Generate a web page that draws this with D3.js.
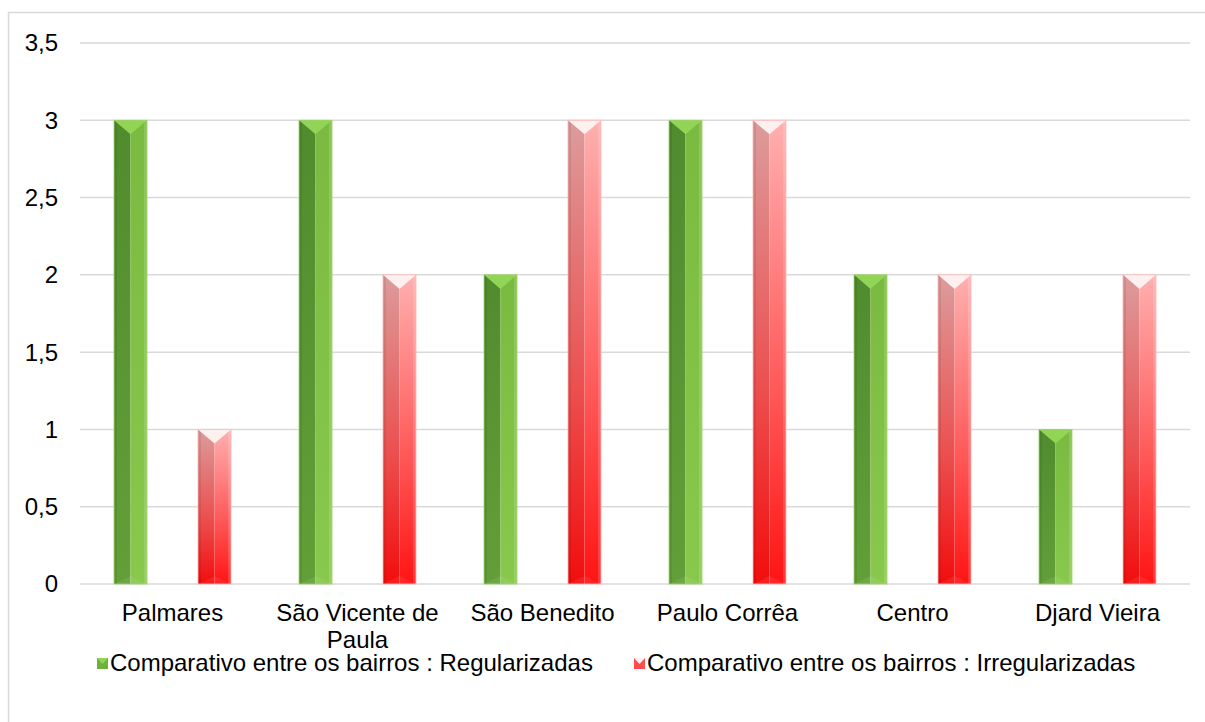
<!DOCTYPE html>
<html>
<head>
<meta charset="utf-8">
<script src="https://cdn.jsdelivr.net/npm/d3@7"></script>
<style>
  body { margin: 0; background: #fff; overflow: hidden; }
  text { font-family: "Liberation Sans", Arial, sans-serif; fill: #000; }
</style>
</head>
<body>
<svg width="1205" height="722"></svg>
<script>
const bairros = ['Palmares', 'São Vicente de Paula', 'São Benedito', 'Paulo Corrêa', 'Centro', 'Djard Vieira'];
const regularizadas = [3, 3, 2, 3, 2, 1];
const irregularizadas = [1, 2, 3, 3, 2, 2];
const seriesNames = ['Comparativo entre os bairros : Regularizadas', 'Comparativo entre os bairros : Irregularizadas'];
const yTicks = [0, 0.5, 1, 1.5, 2, 2.5, 3, 3.5];

const svg = d3.select('svg');
const margin = { left: 80, right: 15, top: 43, bottom: 138 };
const width = +svg.attr('width');
const height = +svg.attr('height');
const innerWidth = width - margin.left - margin.right;
const innerHeight = height - margin.top - margin.bottom;

// outer frame
svg.append('path')
    .attr('d', `M8.5,${height} L8.5,12.5 L${width},12.5`)
    .attr('fill', 'none').attr('stroke', '#d9d9d9').attr('stroke-width', 1.5);

const defs = svg.append('defs');
const grad = (id, x2, y2, stops) => {
    const g = defs.append('linearGradient').attr('id', id)
        .attr('x1', 0).attr('y1', 0).attr('x2', x2).attr('y2', y2);
    stops.forEach(([o, c]) => g.append('stop').attr('offset', o).attr('stop-color', c));
};
grad('gL', 0, 1, [[0, '#508c2e'], [1, '#639f38']]);
grad('gR', 0, 1, [[0, '#7aba40'], [1, '#88c84c']]);
grad('rL', 0, 1, [[0, '#dc9c9c'], [0.6, '#ec4c4c'], [1, '#f20d0d']]);
grad('rR', 0, 1, [[0, '#ffb0b0'], [0.6, '#ff5656'], [1, '#ff1414']]);

const styles = [
    { left: 'url(#gL)', right: 'url(#gR)', cap: '#92d455', edge: '#9fd66a', legend: '#6fb23a' },
    { left: 'url(#rL)', right: 'url(#rR)', cap: '#fff0f0', edge: '#ffb8b8', legend: '#ff4d4d' }
];

const g = svg.append('g').attr('transform', `translate(${margin.left},${margin.top})`);

const x = d3.scaleBand().domain(bairros).range([0, innerWidth]);
const xSub = d3.scaleBand().domain([0, 1]).range([34, 151]).paddingInner(0.607);
const y = d3.scaleLinear().domain([0, 3.5]).range([innerHeight, 0]);

// grid
g.selectAll('.grid').data(yTicks).enter().append('line')
    .attr('x1', 0).attr('x2', innerWidth)
    .attr('y1', d => y(d)).attr('y2', d => y(d))
    .attr('stroke', '#d9d9d9').attr('stroke-width', 1.5);

// y labels
g.selectAll('.ylab').data(yTicks).enter().append('text')
    .attr('x', -22).attr('y', d => y(d)).attr('dy', '0.35em')
    .attr('text-anchor', 'end').attr('font-size', 24)
    .text(d => d3.format('.1~f')(d).replace('.', ','));

// bars
const rows = [];
bairros.forEach((b, i) => {
    rows.push({ b, s: 0, v: regularizadas[i] });
    rows.push({ b, s: 1, v: irregularizadas[i] });
});

const bars = g.selectAll('.bar').data(rows).enter().append('g')
    .attr('transform', d => `translate(${x(d.b) + xSub(d.s)},0)`);

bars.each(function(d) {
    const sel = d3.select(this);
    const w = xSub.bandwidth();
    const top = y(d.v);
    const bottom = y(0);
    const st = styles[d.s];
    const cap = w / 2;
    sel.append('rect').attr('x', 0).attr('y', top).attr('width', w / 2).attr('height', bottom - top)
        .attr('fill', st.left);
    sel.append('rect').attr('x', w / 2).attr('y', top).attr('width', w / 2).attr('height', bottom - top)
        .attr('fill', st.right);
    // bevel strips
    sel.append('rect').attr('x', 0).attr('y', top).attr('width', 3).attr('height', bottom - top)
        .attr('fill', '#000').attr('opacity', 0.08);
    sel.append('rect').attr('x', w - 3).attr('y', top).attr('width', 3).attr('height', bottom - top)
        .attr('fill', '#fff').attr('opacity', 0.15);
    // top cap triangle
    sel.append('path')
        .attr('d', `M0,${top} L${w},${top} L${w / 2},${top + cap * 0.85} Z`)
        .attr('fill', st.cap);
    // bottom bevel
    sel.append('path')
        .attr('d', `M0,${bottom} L${w},${bottom} L${w / 2},${bottom - 8} Z`)
        .attr('fill', '#fff').attr('opacity', 0.08);
    sel.append('rect').attr('x', 0).attr('y', top).attr('width', w).attr('height', bottom - top)
        .attr('fill', 'none').attr('stroke', st.edge).attr('stroke-width', 0.8);
});

// x labels
const labelLines = {
    'São Vicente de Paula': ['São Vicente de', 'Paula']
};
const xl = g.selectAll('.xlab').data(bairros).enter().append('text')
    .attr('text-anchor', 'middle').attr('font-size', 24)
    .attr('transform', d => `translate(${x(d) + x.bandwidth() / 2},${innerHeight + 37})`);
xl.each(function(d) {
    const lines = labelLines[d] || [d];
    lines.forEach((l, i) => d3.select(this).append('tspan').attr('x', 0).attr('dy', i ? 27 : 0).text(l));
});

// legend
const legendX = [97, 634];
const legend = svg.selectAll('.leg').data(seriesNames).enter().append('g')
    .attr('transform', (d, i) => `translate(${legendX[i]},663)`);
legend.append('rect').attr('x', 0).attr('y', -5).attr('width', 11).attr('height', 11)
    .attr('fill', (d, i) => styles[i].legend);
legend.append('path').attr('d', 'M0,-5 L11,-5 L5.5,1 Z')
    .attr('fill', (d, i) => styles[i].cap);
legend.append('text').attr('x', 13).attr('dy', '0.35em').attr('font-size', 24).text(d => d);
</script>
</body>
</html>
